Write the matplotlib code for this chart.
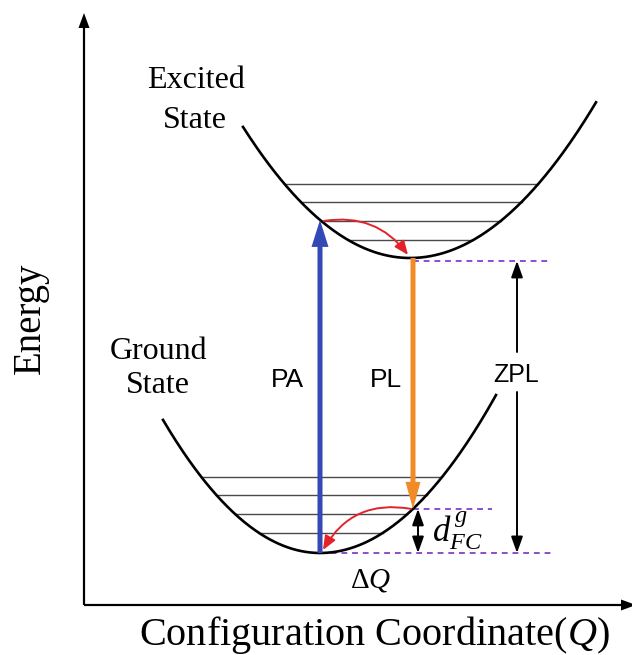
import numpy as np
import matplotlib.pyplot as plt

plt.rcParams['mathtext.fontset'] = 'custom'
plt.rcParams['mathtext.rm'] = 'Liberation Serif'
plt.rcParams['mathtext.it'] = 'Liberation Serif:italic'

# diagram, in pixel units (y grows downwards)
# parabola: vertex x, vertex y, left curvature, right curvature, left end x, right end x
excited = [410, 258, 0.0047, 0.0045, 243, 596]
ground = [320, 553, 0.0054, 0.0051, 163, 496]
excited_levels = [184, 202, 221, 240]
ground_levels = [477, 495, 514, 533]
pa_x = 320     # absorption, from ground minimum
pl_x = 413     # emission, from excited minimum
zpl_x = 517
dfc_x = 418

serif = 'Liberation Serif'
sans = 'Liberation Sans'


def curve(p, x):
    x0, y0, kl, kr = p[:4]
    k = np.where(x < x0, kl, kr)
    return y0 - k * (x - x0) ** 2


def branch_x(p, y):
    x0, y0, kl, kr = p[:4]
    d = y0 - y
    return x0 - np.sqrt(d / kl), x0 + np.sqrt(d / kr)


fig = plt.figure(figsize=(6.32, 6.55), dpi=100)
ax = fig.add_axes([0, 0, 1, 1])
ax.set_xlim(0, 632)
ax.set_ylim(655, 0)
ax.axis('off')

# axes arrows
ax.arrow(84, 605, 0, -592, width=2.2, head_width=11, head_length=15,
         length_includes_head=True, color='black', lw=0)
ax.arrow(84, 605, 552, 0, width=2.2, head_width=11, head_length=15,
         length_includes_head=True, color='black', lw=0)

# potential curves and vibrational levels
for p, levels in [(excited, excited_levels), (ground, ground_levels)]:
    xs = np.linspace(p[4], p[5], 300)
    ax.plot(xs, curve(p, xs), color='black', lw=1.9, zorder=3)
    for y in levels:
        xl, xr = branch_x(p, y)
        ax.plot([xl, xr], [y, y], color='#4a4a4a', lw=1.0, zorder=2)

ex_min = curve(excited, np.array(pl_x))
gr_pl = curve(ground, np.array(pl_x))
ex_pa = curve(excited, np.array(pa_x))
gr_min = ground[1]

# purple dashed reference lines
dash = dict(color='#8a4fc6', lw=1.4, ls=(0, (3, 2.5)), zorder=1)
ax.plot([pl_x, 552], [ex_min + 3, ex_min + 3], **dash)
ax.plot([pl_x, 492], [gr_pl, gr_pl], **dash)
ax.plot([pa_x, 552], [gr_min, gr_min], **dash)

# PA and PL arrows
ax.arrow(pa_x, gr_min, 0, ex_pa - gr_min, width=5, head_width=17, head_length=27,
         length_includes_head=True, color='#3449b5', lw=0, zorder=4)
ax.arrow(pl_x, ex_min, 0, gr_pl - ex_min, width=5, head_width=15, head_length=27,
         length_includes_head=True, color='#f28b25', lw=0, zorder=4)

# relaxation arrows
red = dict(arrowstyle='-|>,head_length=0.6,head_width=0.25', color='#e3232a',
           lw=1.4, shrinkA=0, shrinkB=0, mutation_scale=14)
ax.annotate('', xy=(pl_x - 5, ex_min - 3), xytext=(pa_x + 4, ex_pa + 1),
            arrowprops=dict(connectionstyle='arc3,rad=-0.3', **red), zorder=5)
ax.annotate('', xy=(pa_x + 3, gr_min - 3), xytext=(pl_x - 2, gr_pl),
            arrowprops=dict(connectionstyle='arc3,rad=0.35', **red), zorder=5)

# ZPL and d_FC double arrows
blk = dict(arrowstyle='-|>,head_length=0.7,head_width=0.25', color='black',
           lw=1.4, shrinkA=0, shrinkB=0, mutation_scale=14)
ax.annotate('', xy=(zpl_x, ex_min + 3), xytext=(zpl_x, 352), arrowprops=blk)
ax.annotate('', xy=(zpl_x, gr_min), xytext=(zpl_x, 392), arrowprops=blk)
ax.annotate('', xy=(dfc_x, gr_pl), xytext=(dfc_x, 530), arrowprops=blk)
ax.annotate('', xy=(dfc_x, gr_min), xytext=(dfc_x, 530), arrowprops=blk)

# labels
ax.text(30, 318, 'Energy', rotation=90, ha='center', va='center',
        family=serif, fontsize=28)
ax.text(374, 645, 'Configuration Coordinate($Q$)', ha='center', va='baseline',
        family=serif, fontsize=29)
ax.text(196, 88, 'Excited', ha='center', va='baseline', family=serif, fontsize=23)
ax.text(195, 128, 'State', ha='center', va='baseline', family=serif, fontsize=23)
ax.text(159, 359, 'Ground', ha='center', va='baseline', family=serif, fontsize=23)
ax.text(158, 393, 'State', ha='center', va='baseline', family=serif, fontsize=23)
ax.text(287, 387, 'PA', ha='center', va='baseline', family=sans, fontsize=19)
ax.text(386, 387, 'PL', ha='center', va='baseline', family=sans, fontsize=19)
ax.text(516, 382, 'ZPL', ha='center', va='baseline', family=sans, fontsize=18)
ax.text(371, 588, r'$\mathrm{Δ}Q$', ha='center', va='baseline', fontsize=21)
ax.text(432, 541, r'$d^{\,g}_{FC}$', ha='left', va='baseline', fontsize=25)

fig.savefig('out.png', dpi=100)
